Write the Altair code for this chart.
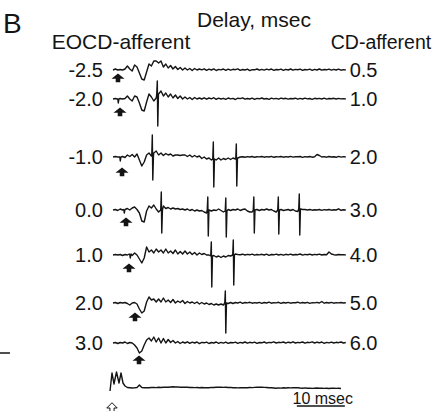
import altair as alt
import pandas as pd

# Canvas and time axis: 4.8 px per msec, stimulus time t = 0 at x = 113 px
W, H = 432, 411
PX_PER_MS = 4.8
X_ORIGIN = 113
X0 = -X_ORIGIN / PX_PER_MS
X1 = (W - X_ORIGIN) / PX_PER_MS
DT = 0.5  # sampling step of the traces (msec)

eocd_delays = ["-2.5", "-2.0", "-1.0", "0.0", "1.0", "2.0", "3.0"]
cd_delays = ["0.5", "1.0", "2.0", "3.0", "4.0", "5.0", "6.0"]

# Recorded traces, sampled every 0.5 msec (deflection, up = positive)
trace_m25 = [0, 1, 0, 0.5, 0, 1, 4, 1, -1, 5, 3, -3, -9, -10, -2, 6, 4, 9, 9, 7,
             9, 3, 6, 2, 4.5, 1, 3.5, 0.5, 2.5, 0, 2, 0, 1.5, -0.5, 1.5, 0, 1,
             0.2, 1.2, -0.3, 0.9, 0.0, 1.1, -0.5, 0.6, 0.1, 1.0,
             -0.4, 0.8, -0.2, 0.7, 0.3, 1.1, -0.3, 0.5, 0.0, 0.9,
             -0.6, 0.4, 0.2, 1.0, -0.2, 0.6, -0.1, 0.8, 0.1, 1.0,
             -0.4, 0.5, 0.2, 0.9, -0.3, 0.7, 0.0, 1.0, -0.2, 0.6,
             0.3, 0.9, -0.4, 0.5, 0.1, 0.8, -0.3, 0.7, 0.0, 1.0,
             -0.2, 0.5, 0.2, 0.9, -0.1, 0.6, 0.0, 0.8, -0.2, 0.4, 0.0]
trace_m20 = [0, 0.5, 0, 0.5, 0, 0.5, 3, 0, -2, 3, 2, -4, -11, -12, -3, 5, 2, -2, 1, 5,
             8, 3, 6, 2, 5, 1, 4, 0.5, 3, 0, 2, 0, 1.5, -0.5, 1.5, 0, 1,
             0.0, 1.2, -0.2, 1.0, 0.2, 1.3, -0.4, 0.9, 0.0, 0.7,
             -0.3, 1.0, 0.1, 0.6, -0.5, 0.8, 0.4, 1.2, -0.2, 0.5,
             0.0, 0.9, -0.4, 0.6, 0.2, 1.0, 0.0, 0.5, -0.3, 0.8,
             0.1, 0.6, -0.2, 0.9, 0.3, 0.7, -0.1, 0.5, 0.2, 0.8,
             -0.2, 0.6, 0.0, 0.9, 0.1, 0.5, -0.3, 0.7, 0.2, 0.6,
             0.0, 0.8, -0.1, 0.5, 0.3, 0.7, 0.0, 0.6, 0.1, 0.4, 0.0]
trace_m10 = [0, 0.5, 0, 0, 0.5, -0.5, 2, 0.5, 2.5, 0, 3, -3, -9, -5, 2, 4, 1, 4, 6, 2,
             4, 1.5, 3.5, 2, 3, 1, 2, 2, 1.5, 2, 2, 0.5, 2, 0, 1.5, 0, 1,
             -1.5, 0, -2, -1, -3, -2, -3, -1, -3, -1.5, -2.5, -1, -2.5, -1, -2, -1,
             0, 0.3, -0.2, 0.4, 0.0, 0.5, -0.3, 0.3, 0.1, 0.5,
             -0.2, 0.4, 0.0, 0.6, -0.3, 0.3, 0.1, 0.5, -0.2, 0.4,
             0.0, 0.6, -0.1, 0.3, 0.2, 0.5, -0.3, 0.4, 0.0, 0.5,
             -0.2, 0.3, 2.5, 1.5, 0.0, 0.4, -0.2, 0.5, 0.0, 0.3,
             -0.3, 0.6, -0.1, 0.4, 0.0]
trace_00 = [0, 0.5, -0.5, 1, 0, 0.5, 1.5, 0, 2, 3, 0.5, -3, -11, -12, -1, 4, 2, 5, 1, -2,
            0, 4, 1.5, 2.5, 1, 2, 1, 1.5, 0.5, 1, 0, 1, -0.5, 0.5, -1, 0, -1,
            -0.5, -2, -3, 0, -1, 0, -0.5, 1, -0.5, -2, -1, 0.5, -0.5, 0.5, 0, 1,
            -0.5, 0.5, 1, -1, -2, -2, 0, 0.5, -0.5, 0.5, 0, 1, 0, 0.5, -1, -2,
            0, 0.5, -0.5, 0, 0.5, -0.5, 0.5, -1, -1.5, 1, 0.5, 0.5, 0, 0.5, -0.2,
            0.3, 0, 0.5, -0.3, 0.4, 0, 0.5, -0.2, 0.3, 0, 1.2, -0.3, 0.2, 0]
trace_p10 = [0, 0.5, 0, 0.5, -0.5, 0.5, 0, 1, -0.5, 2, 0, -4, -8, -3, 8, 3, 5, 2, 6, 3,
             5, 2, 6, 2, 4, 1.5, 5, 1, 3.5, 1, 4, 1, 3, 0.5, 2.5, 0, 2,
             0.5, 1.5, 0, 0, -1, -0.5, -2, -1, -2.5, -1, -2, -0.5, -1, 0, 1, 0.5,
             0.3, 0.8, 0.0, 0.6, 0.2, 0.9, -0.2, 0.5, 0.1, 0.7,
             0.0, 0.8, -0.3, 0.5, 0.2, 0.9, 0.0, 0.6, -0.2, 0.7,
             0.1, 0.9, 0.0, 0.5, 0.3, 1.0, -0.1, 0.6, 0.2, 0.8,
             0.0, 0.6, 0.3, 0.9, 0.0, 0.5, 0.2, 3.0, 1.0, 0.3,
             0.0, 0.5, 0.2, 0.4, 0.0]
trace_p20 = [0, 0.5, -0.5, 0.5, 0, 0.5, -0.5, -2, 0, 0.5, -1, -6, -10, -8, 1, 6, 3, 4, 1, 4,
             1, 5, 1, 3, 0.5, 3.5, 0, 2, 0.5, 2.5, -0.5, 1.5, 0, 1, -0.5, 1, -1,
             0.5, -1, 0, -1.5, -0.5, -2, -1, -2, -1, -2, 0, -0.5, 0.5, -0.5,
             0.5, 0.0, 0.8, -0.3, 0.5, 0.1, 0.7, -0.2, 0.4, 0.0,
             0.6, -0.3, 0.5, 0.0, 0.8, -0.2, 0.4, 0.1, 0.7, -0.3,
             0.5, 0.0, 0.6, -0.2, 0.4, 0.2, 0.8, -0.1, 0.5, 0.0,
             0.7, -0.3, 0.4, 0.1, 0.6, 0.0, 1.5, -0.2, 0.5, 0.0,
             0.6, -0.2, 0.4, 0.1, 0.5, 0.0, 0.3]
trace_p30 = [0, 0.5, -0.5, 0.5, 0, 1, -0.5, 0.5, 0, -2, -5, -10, -8, -2, 3, 5, 2, 6, 1, 5,
             0, 4.5, 0, 3.5, 0.5, 2.5, 0, 1.5, -0.5, 1, 0,
             1.2, -0.4, 0.8, 0.0, 1.0, -0.6, 0.6, 0.2, 0.9, -0.5,
             0.5, 0.0, 1.0, -0.3, 0.6, -0.1, 0.8, -0.4, 0.5, 0.2,
             0.9, -0.3, 0.6, 0.0, 1.0, -0.2, 0.7, 0.1, 0.9, -0.4,
             0.5, 0.2, 1.0, -0.2, 0.6, 0.3, 1.1, 0.0, 0.7, 0.4,
             1.0, -0.1, 0.8, 0.2, 1.2, 0.0, 0.6, 0.3, 1.0, -0.2,
             0.7, 0.4, 1.1, 0.0, 0.8, 0.2, 1.0, -0.3, 0.6, 0.1,
             0.9, 0.0, 0.7, 0.3, 1.0, 0.0, 0.5]

# Unit spikes and stimulus ticks: (time msec, peak up, trough down)
spikes_m25 = []
spikes_m20 = [(1.04, 0, 4), (9.27, 18, 27)]
spikes_m10 = [(1.46, 0, 4), (8.23, 22, 23), (20.94, 15, 30), (25.73, 13, 29)]
spikes_00 = [(2.29, 0, 3), (10.10, 18, 23), (19.79, 13, 26), (23.54, 12, 27),
             (29.38, 13, 23), (34.48, 13, 24), (38.85, 16, 25)]
spikes_p10 = [(3.54, 0, 3), (20.52, 13, 32), (25.10, 15, 30)]
spikes_p20 = [(23.44, 12, 30)]
spikes_p30 = []

# Stimulus monitor trace
stim_t = [-0.62, -0.21, 0.21, 0.73, 1.25, 1.67, 2.08, 2.5, 3.0]
stim_v = [-3, 15, 4, 16, 5, 15, 5, 2, 0.5]
stim_tail = [0.3, 0, 0.2, 0.5, 3.0, 0.5, 0.2, 0.4, 0.3, 0.5,
             0.6, 0.4, 0.7, 0.5, 0.8, 0.9, 0.7, 1.0, 1.2, 1.0,
             1.1, 0.8, 0.9, 0.7, 0.8, 0.5, 0.6, 0.4, 0.5, 0.3,
             0.5, 0.2, 0.4, 0.3, 0.6, 0.5, 0.8, 0.7, 0.9, 0.6,
             0.7, 0.5, 0.6, 0.3, 0.4, 0.1, 0.3, 0.2, 0.4, 0.3,
             0.5, 0.4, 0.6, 0.8, 0.7, 0.9, 0.6, 0.5, 0.3, 0.2,
             0.0, -0.2, 0.1, -0.1, 0.2, 0.0, 0.3, 0.1, 0.4, 0.2,
             0.3, 0.0, -0.2, 0.1, -0.3, -0.1, -0.4, -0.2, 0.0, -0.3,
             -0.1, -0.4, -0.2, -0.5, -0.3, -0.2, -0.4, -0.3, -0.5]
STIM_TAIL_START = 3.5

# CD-afferent stimulus markers (filled arrows), msec
arrow_t = [1.04, 1.46, 1.88, 2.71, 3.33, 4.58, 5.42]

# Layout of the stacked rows (vertical pixel positions)
ROW_Y = [70, 99, 157, 210, 255, 303, 343]
ARROW_DROP = [8, 13, 15, 12, 13, 14, 17]
STIM_Y = 388

traces = [trace_m25, trace_m20, trace_m10, trace_00, trace_p10, trace_p20, trace_p30]
spikes = [spikes_m25, spikes_m20, spikes_m10, spikes_00, spikes_p10, spikes_p20, spikes_p30]


def build(samples, events):
    pts = [(DT * i, v) for i, v in enumerate(samples)]
    for ts, up, down in events:
        k = min(range(len(samples)), key=lambda i: abs(DT * i - ts))
        level = samples[k]
        pts = [p for p in pts if abs(p[0] - ts) > 0.2]
        pts += [(ts - 0.16, level), (ts - 0.04, up), (ts + 0.06, -down), (ts + 0.2, level)]
    return sorted(pts)


rows = []
for r, (samples, events) in enumerate(zip(traces, spikes)):
    for t, v in build(samples, events):
        rows.append({"trace": f"r{r}", "t": t, "y": ROW_Y[r] - v})
stim_pts = list(zip(stim_t, stim_v)) + [(STIM_TAIL_START + DT * i, v) for i, v in enumerate(stim_tail)]
for t, v in stim_pts:
    rows.append({"trace": "stim", "t": t, "y": STIM_Y - v})
df = pd.DataFrame(rows)

xs = alt.Scale(domain=[X0, X1], nice=False, zero=False)
ys = alt.Scale(domain=[H, 0], nice=False, zero=False)
X = lambda f="t": alt.X(f"{f}:Q", scale=xs, axis=None)
Y = lambda f="y": alt.Y(f"{f}:Q", scale=ys, axis=None)

INK = "#141414"
FONT = "Liberation Sans"

lines = alt.Chart(df).mark_line(strokeWidth=1.4, color=INK, strokeJoin="round").encode(
    x=X(), y=Y(), detail="trace:N", order="t:Q"
)

arrow_df = pd.DataFrame({"t": arrow_t, "y": [ROW_Y[i] + ARROW_DROP[i] for i in range(7)]})
ARROW = "M0,-0.7 L1,0.1 L0.35,0.1 L0.35,0.65 L-0.35,0.65 L-0.35,0.1 L-1,0.1 Z"
arrows = alt.Chart(arrow_df).mark_point(
    shape=ARROW, size=170, filled=True, color=INK, opacity=1
).encode(x=X(), y=Y())

stim_arrow = alt.Chart(pd.DataFrame({"t": [-0.21], "y": [408]})).mark_point(
    shape="M0,-1 L1,0 L0.4,0 L0.4,1 L-0.4,1 L-0.4,0 L-1,0 Z",
    size=110, filled=False, color=INK, strokeWidth=1, opacity=1
).encode(x=X(), y=Y())

left_df = pd.DataFrame({"label": eocd_delays, "t": [-2.1] * 7, "y": [y + 1 for y in ROW_Y]})
right_df = pd.DataFrame({"label": cd_delays, "t": [49.3] * 7, "y": [y + 1 for y in ROW_Y]})
left_txt = alt.Chart(left_df).mark_text(
    align="right", baseline="middle", fontSize=20, font=FONT, color=INK
).encode(x=X(), y=Y(), text="label:N")
right_txt = alt.Chart(right_df).mark_text(
    align="left", baseline="middle", fontSize=20, font=FONT, color=INK
).encode(x=X(), y=Y(), text="label:N")

# 10 msec scale bar
bar_df = pd.DataFrame({"t": [38.3], "t2": [48.3], "y": [406]})
bar = alt.Chart(bar_df).mark_rule(strokeWidth=1.5, color=INK).encode(
    x=X(), x2="t2:Q", y=Y()
)
bar_txt = alt.Chart(pd.DataFrame({"t": [43.7], "y": [404], "label": ["10 msec"]})).mark_text(
    align="center", baseline="alphabetic", fontSize=16, font=FONT, color=INK
).encode(x=X(), y=Y(), text="label:N")

headers = pd.DataFrame({
    "label": ["B", "Delay, msec", "EOCD-afferent", "CD-afferent"],
    "px": [3, 254, 121, 381],
    "py": [33, 27, 49, 49],
    "size": [28, 21, 21, 19.5],
    "align": ["left", "center", "center", "center"],
})
head_marks = []
for _, h in headers.iterrows():
    head_marks.append(
        alt.Chart(pd.DataFrame({"label": [h["label"]]})).mark_text(
            align=h["align"], baseline="alphabetic", fontSize=float(h["size"]), font=FONT, color=INK
        ).encode(x=alt.value(int(h["px"])), y=alt.value(int(h["py"])), text="label:N")
    )

left_dash = alt.Chart(pd.DataFrame({"a": [0]})).mark_rule(strokeWidth=1.5, color=INK).encode(
    x=alt.value(0), x2=alt.value(10), y=alt.value(353)
)

chart = alt.layer(
    lines, arrows, stim_arrow, left_txt, right_txt, bar, bar_txt, left_dash, *head_marks
).properties(
    width=W, height=H, autosize=alt.AutoSizeParams(type="none"), padding=0,
    background="white"
).configure_view(stroke=None)

chart.save("out.html", embed_options={"renderer": "svg", "actions": False})
